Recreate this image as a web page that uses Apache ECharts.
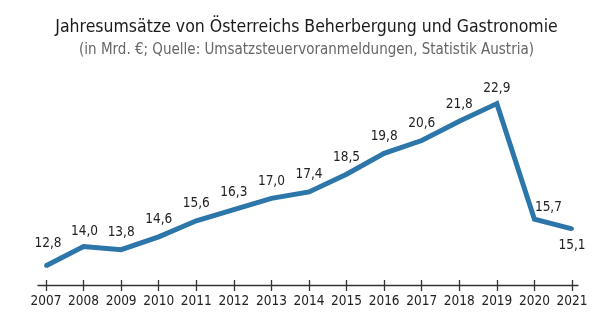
<!DOCTYPE html>
<html><head><meta charset="utf-8">
<script src="https://cdn.jsdelivr.net/npm/echarts@6/dist/echarts.min.js"></script>
<style>html,body{margin:0;padding:0;background:#fff}#c{width:613px;height:330px}</style>
</head><body><div id="c"></div>
<script>
var years = ['2007','2008','2009','2010','2011','2012','2013','2014','2015','2016','2017','2018','2019','2020','2021'];
var revenue = [12.8,14.0,13.8,14.6,15.6,16.3,17.0,17.4,18.5,19.8,20.6,21.8,22.9,15.7,15.1];
var titleText = 'Jahresumsätze von Österreichs Beherbergung und Gastronomie';
var subtitleText = '(in Mrd. €; Quelle: Umsatzsteuervoranmeldungen, Statistik Austria)';

var FONT = '"DejaVu Sans Condensed", "DejaVu Sans", sans-serif';
var LINE_COLOR = '#2c76aa';
function fmt(v){ return v.toFixed(1).replace('.', ','); }
var seriesData = revenue.map(function(v, i){
  var item = { value: v, label: { show: true, position: 'top', distance: 8, offset: [0, 0] } };
  if (i === 0) item.label.offset = [2, -5];
  if (i === 1) item.label.offset = [1, 2];
  if (i === 12) item.label.distance = 6;
  if (i === 13) { item.label.offset = [14, 5]; }
  if (i === 14) { item.label.position = 'bottom'; item.label.distance = 8; }
  return item;
});

var chart = echarts.init(document.getElementById('c'), null, {renderer: 'canvas'});
chart.setOption({
  animation: false,
  backgroundColor: '#fff',
  title: [
    { text: titleText, left: 'center', top: 13,
      textStyle: { fontFamily: FONT, fontSize: 17.5, fontWeight: 'normal', color: '#1a1a1a' } },
    { text: subtitleText, left: 'center', top: 38,
      textStyle: { fontFamily: FONT, fontSize: 15, fontWeight: 'normal', color: '#666' } }
  ],
  grid: [
    { left: 46, right: 41, top: 102, bottom: 45 },
    { left: 38, right: 35, top: 102, bottom: 45 }
  ],
  xAxis: [
    { type: 'category', gridIndex: 0, data: years, boundaryGap: false,
      axisLine: { show: false },
      axisTick: { show: true, inside: false, length: 6, interval: 0, lineStyle: { color: '#333', width: 1.3 } },
      axisLabel: { interval: 0, margin: 9, fontFamily: FONT, fontSize: 13.5, color: '#222' } },
    { type: 'category', gridIndex: 0, data: years, boundaryGap: false, position: 'bottom',
      axisLine: { show: false },
      axisTick: { show: true, inside: true, length: 5, interval: 0, lineStyle: { color: '#333', width: 1.3 } },
      axisLabel: { show: false } },
    { type: 'value', gridIndex: 1, min: 0, max: 1, position: 'bottom',
      axisLine: { show: true, onZero: false, lineStyle: { color: '#333', width: 1.3 } },
      axisTick: { show: false }, axisLabel: { show: false }, splitLine: { show: false } }
  ],
  yAxis: [
    { type: 'value', gridIndex: 0, min: 11.6, max: 23, show: false, splitLine: { show: false } },
    { type: 'value', gridIndex: 1, min: 0, max: 1, show: false, splitLine: { show: false } }
  ],
  series: [{
    type: 'line', xAxisIndex: 0, yAxisIndex: 0,
    data: seriesData,
    symbol: 'circle', symbolSize: 4, showSymbol: true,
    itemStyle: { color: LINE_COLOR, borderWidth: 0 },
    lineStyle: { color: LINE_COLOR, width: 5, join: 'miter', cap: 'butt' },
    label: { show: true, fontFamily: FONT, fontSize: 13.5, color: '#222',
      formatter: function(p){ return fmt(p.value); } }
  }]
});
</script></body></html>
